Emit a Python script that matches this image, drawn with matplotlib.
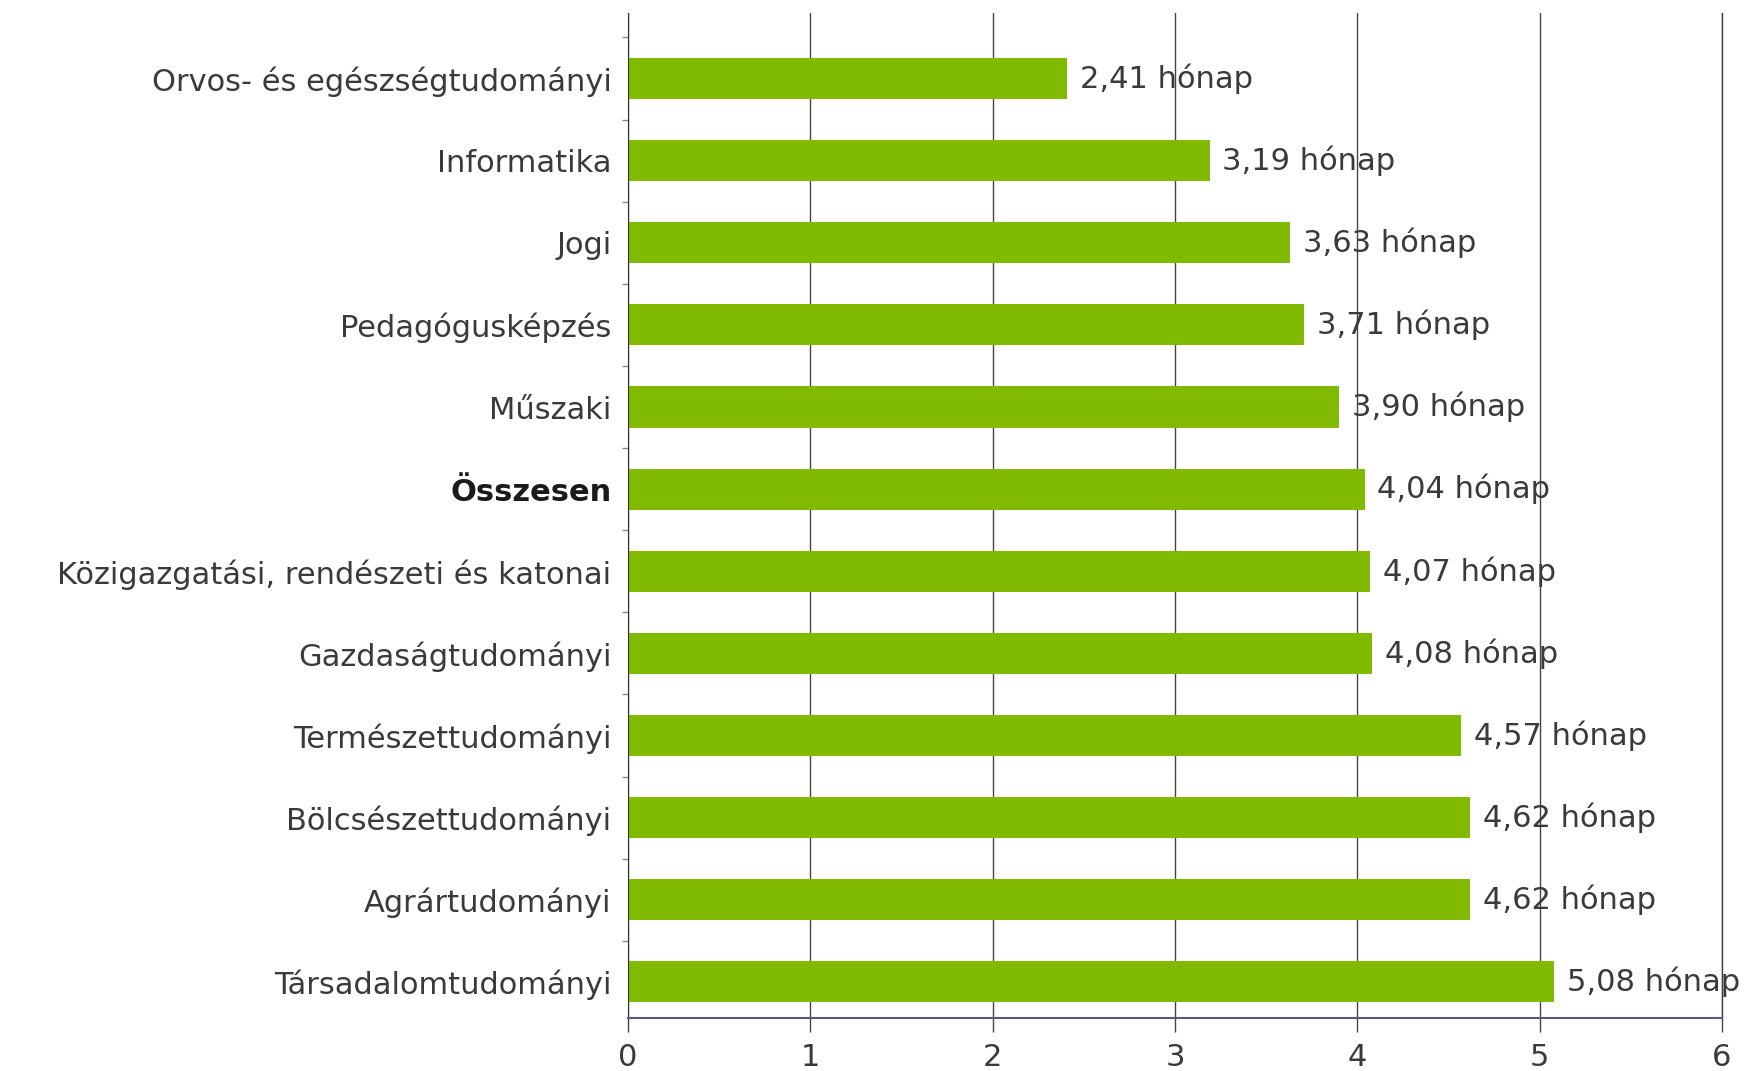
import matplotlib
matplotlib.use("Agg")
import matplotlib.pyplot as plt
from matplotlib.ticker import FixedLocator
import numpy as np

categories = [
    "Orvos- és egészségtudományi",
    "Informatika",
    "Jogi",
    "Pedagógusképzés",
    "Műszaki",
    "Összesen",
    "Közigazgatási, rendészeti és katonai",
    "Gazdaságtudományi",
    "Természettudományi",
    "Bölcsészettudományi",
    "Agrártudományi",
    "Társadalomtudományi",
]
values = [2.41, 3.19, 3.63, 3.71, 3.90, 4.04, 4.07, 4.08, 4.57, 4.62, 4.62, 5.08]
value_labels = ["2,41 hónap", "3,19 hónap", "3,63 hónap", "3,71 hónap", "3,90 hónap",
                "4,04 hónap", "4,07 hónap", "4,08 hónap", "4,57 hónap", "4,62 hónap",
                "4,62 hónap", "5,08 hónap"]
x_ticks = [0, 1, 2, 3, 4, 5, 6]

plt.rcParams['font.family'] = ['DejaVu Sans']
fig = plt.figure(figsize=(17.5, 10.71), dpi=100)
ax = fig.add_axes([0.3589, 0.0495, 0.984 - 0.3589, 0.988 - 0.0495])

FS = 22
y = np.arange(len(categories))
ax.barh(y, values, height=0.5, color="#80ba01", zorder=2)
for yi, v, lab in zip(y, values, value_labels):
    ax.text(v + 0.07, yi, lab, va="center", ha="left", fontsize=FS, color="#3a3a3a", zorder=3)

ax.set_xlim(0, 6)
ax.set_ylim(11.44, -0.8)
ax.set_yticks(y)
ax.set_yticklabels(categories, fontsize=FS, color="#3a3a3a")
for t in ax.get_yticklabels():
    if t.get_text() == "Összesen":
        t.set_fontweight("bold")
        t.set_color("#1a1a1a")
ax.tick_params(axis="y", which="major", length=0, pad=12)
ax.yaxis.set_minor_locator(FixedLocator(np.arange(-0.5, len(categories), 1.0)))
ax.tick_params(axis="y", which="minor", length=4, width=1, color="#888888")

ax.set_xticks(x_ticks)
ax.set_xticklabels([str(t) for t in x_ticks], fontsize=FS, color="#3a3a3a")
ax.tick_params(axis="x", length=10, width=1, color="#444444", pad=8)
ax.xaxis.grid(True, color="#444444", linewidth=1, zorder=1)
ax.set_axisbelow(True)

ax.spines["top"].set_visible(False)
ax.spines["right"].set_color("#444444")
ax.spines["right"].set_linewidth(1)
ax.spines["left"].set_color("#333333")
ax.spines["bottom"].set_color("#5a5a80")
ax.spines["bottom"].set_linewidth(1.5)

fig.savefig("out.png", dpi=100)
